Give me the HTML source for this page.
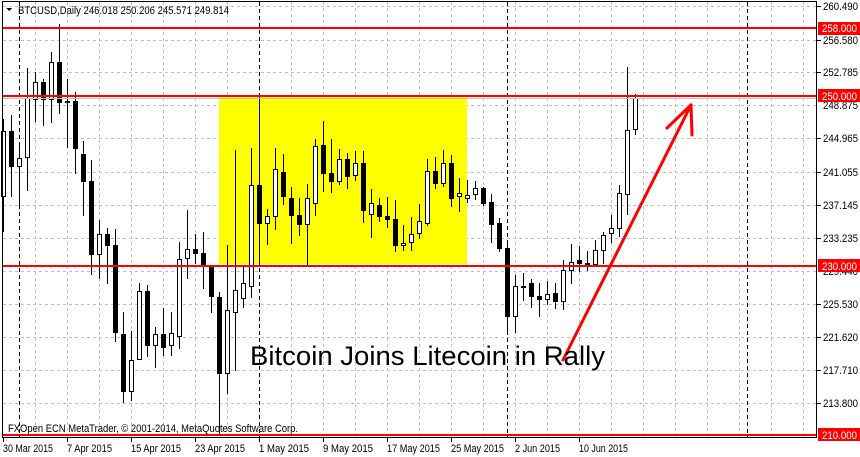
<!DOCTYPE html>
<html><head><meta charset="utf-8"><style>
html,body{margin:0;padding:0;background:#fff;width:860px;height:457px;overflow:hidden}
svg{display:block}
text{font-family:"Liberation Sans",sans-serif;font-size:11px;fill:#000}
</style></head><body>
<svg width="860" height="457" viewBox="0 0 860 457" xmlns="http://www.w3.org/2000/svg" shape-rendering="crispEdges">
<rect x="0" y="0" width="860" height="457" fill="#fff"/>
<g stroke="#c0c0c0" stroke-width="1" stroke-dasharray="3,3">
<line x1="3" y1="6.5" x2="817" y2="6.5"/><line x1="3" y1="40.5" x2="817" y2="40.5"/><line x1="3" y1="72.5" x2="817" y2="72.5"/><line x1="3" y1="105.5" x2="817" y2="105.5"/><line x1="3" y1="138.5" x2="817" y2="138.5"/><line x1="3" y1="172.5" x2="817" y2="172.5"/><line x1="3" y1="205.5" x2="817" y2="205.5"/><line x1="3" y1="238.5" x2="817" y2="238.5"/><line x1="3" y1="271.5" x2="817" y2="271.5"/><line x1="3" y1="304.5" x2="817" y2="304.5"/><line x1="3" y1="337.5" x2="817" y2="337.5"/><line x1="3" y1="370.5" x2="817" y2="370.5"/><line x1="3" y1="403.5" x2="817" y2="403.5"/>
</g>
<g stroke="#c0c0c0" stroke-width="1" stroke-dasharray="3,3">
<line x1="35.5" y1="2" x2="35.5" y2="437"/><line x1="67.5" y1="2" x2="67.5" y2="437"/><line x1="99.5" y1="2" x2="99.5" y2="437"/><line x1="131.5" y1="2" x2="131.5" y2="437"/><line x1="163.5" y1="2" x2="163.5" y2="437"/><line x1="195.5" y1="2" x2="195.5" y2="437"/><line x1="227.5" y1="2" x2="227.5" y2="437"/><line x1="291.5" y1="2" x2="291.5" y2="437"/><line x1="323.5" y1="2" x2="323.5" y2="437"/><line x1="355.5" y1="2" x2="355.5" y2="437"/><line x1="387.5" y1="2" x2="387.5" y2="437"/><line x1="419.5" y1="2" x2="419.5" y2="437"/><line x1="451.5" y1="2" x2="451.5" y2="437"/><line x1="483.5" y1="2" x2="483.5" y2="437"/><line x1="515.5" y1="2" x2="515.5" y2="437"/><line x1="547.5" y1="2" x2="547.5" y2="437"/><line x1="579.5" y1="2" x2="579.5" y2="437"/><line x1="611.5" y1="2" x2="611.5" y2="437"/><line x1="643.5" y1="2" x2="643.5" y2="437"/><line x1="675.5" y1="2" x2="675.5" y2="437"/><line x1="707.5" y1="2" x2="707.5" y2="437"/><line x1="739.5" y1="2" x2="739.5" y2="437"/><line x1="771.5" y1="2" x2="771.5" y2="437"/><line x1="803.5" y1="2" x2="803.5" y2="437"/>
</g>
<rect x="219" y="96" width="248" height="168" fill="#ffff00"/>
<g stroke="#000" stroke-width="1" stroke-dasharray="4,3">
<line x1="19.5" y1="2" x2="19.5" y2="437"/><line x1="507.5" y1="2" x2="507.5" y2="437"/><line x1="747.5" y1="2" x2="747.5" y2="437"/>
</g>
<line x1="259.5" y1="2" x2="259.5" y2="437" stroke="#000" stroke-dasharray="4,3"/>
<line x1="259.5" y1="96" x2="259.5" y2="264" stroke="#0000c0" stroke-dasharray="4,3"/>
<g stroke="#000" stroke-width="1">
<line x1="3.5" y1="119" x2="3.5" y2="232"/><rect x="1.5" y="131.5" width="4" height="65" fill="#fff"/>
<line x1="11.5" y1="115" x2="11.5" y2="197"/><rect x="9.5" y="131.5" width="4" height="35" fill="#000"/>
<line x1="19.5" y1="144" x2="19.5" y2="208"/><rect x="17.5" y="158.5" width="4" height="8" fill="#fff"/>
<line x1="27.5" y1="68" x2="27.5" y2="191"/><rect x="25.5" y="98.5" width="4" height="59" fill="#fff"/>
<line x1="35.5" y1="72" x2="35.5" y2="122"/><rect x="33.5" y="82.5" width="4" height="17" fill="#fff"/>
<line x1="43.5" y1="79" x2="43.5" y2="126"/><rect x="41.5" y="82.5" width="4" height="17" fill="#000"/>
<line x1="51.5" y1="52" x2="51.5" y2="123"/><rect x="49.5" y="62.5" width="4" height="37" fill="#fff"/>
<line x1="59.5" y1="24" x2="59.5" y2="114"/><rect x="57.5" y="62.5" width="4" height="40" fill="#000"/>
<line x1="67.5" y1="79" x2="67.5" y2="148"/><rect x="65.5" y="101.5" width="4" height="1" fill="#000"/>
<line x1="75.5" y1="92" x2="75.5" y2="174"/><rect x="73.5" y="101.5" width="4" height="47" fill="#000"/>
<line x1="83.5" y1="141" x2="83.5" y2="216"/><rect x="81.5" y="154.5" width="4" height="27" fill="#000"/>
<line x1="91.5" y1="160" x2="91.5" y2="275"/><rect x="89.5" y="181.5" width="4" height="73" fill="#000"/>
<line x1="99.5" y1="220" x2="99.5" y2="279"/><rect x="97.5" y="234.5" width="4" height="20" fill="#fff"/>
<line x1="107.5" y1="228" x2="107.5" y2="284"/><rect x="105.5" y="234.5" width="4" height="11" fill="#000"/>
<line x1="115.5" y1="229" x2="115.5" y2="342"/><rect x="113.5" y="245.5" width="4" height="87" fill="#000"/>
<line x1="123.5" y1="312" x2="123.5" y2="403"/><rect x="121.5" y="334.5" width="4" height="57" fill="#000"/>
<line x1="131.5" y1="331" x2="131.5" y2="401"/><rect x="129.5" y="360.5" width="4" height="31" fill="#fff"/>
<line x1="139.5" y1="283" x2="139.5" y2="360"/><rect x="137.5" y="291.5" width="4" height="68" fill="#fff"/>
<line x1="147.5" y1="285" x2="147.5" y2="357"/><rect x="145.5" y="291.5" width="4" height="54" fill="#000"/>
<line x1="155.5" y1="327" x2="155.5" y2="368"/><rect x="153.5" y="334.5" width="4" height="11" fill="#fff"/>
<line x1="163.5" y1="308" x2="163.5" y2="356"/><rect x="161.5" y="334.5" width="4" height="13" fill="#000"/>
<line x1="171.5" y1="312" x2="171.5" y2="356"/><rect x="169.5" y="333.5" width="4" height="12" fill="#fff"/>
<line x1="179.5" y1="242" x2="179.5" y2="349"/><rect x="177.5" y="259.5" width="4" height="77" fill="#fff"/>
<line x1="187.5" y1="210" x2="187.5" y2="279"/><rect x="185.5" y="249.5" width="4" height="9" fill="#fff"/>
<line x1="195.5" y1="234" x2="195.5" y2="264"/><rect x="193.5" y="249.5" width="4" height="4" fill="#000"/>
<line x1="203.5" y1="232" x2="203.5" y2="289"/><rect x="201.5" y="253.5" width="4" height="12" fill="#000"/>
<line x1="211.5" y1="267" x2="211.5" y2="313"/><rect x="209.5" y="267.5" width="4" height="29" fill="#000"/>
<line x1="219.5" y1="292" x2="219.5" y2="435"/><rect x="217.5" y="297.5" width="4" height="76" fill="#000"/>
<line x1="227.5" y1="245" x2="227.5" y2="394"/><rect x="225.5" y="310.5" width="4" height="63" fill="#fff"/>
<line x1="235.5" y1="150" x2="235.5" y2="371"/><rect x="233.5" y="290.5" width="4" height="22" fill="#fff"/>
<line x1="243.5" y1="267" x2="243.5" y2="308"/><rect x="241.5" y="283.5" width="4" height="15" fill="#fff"/>
<line x1="251.5" y1="148" x2="251.5" y2="298"/><rect x="249.5" y="185.5" width="4" height="101" fill="#fff"/>
<line x1="259.5" y1="170" x2="259.5" y2="234"/><rect x="257.5" y="185.5" width="4" height="38" fill="#000"/>
<line x1="267.5" y1="209" x2="267.5" y2="245"/><rect x="265.5" y="216.5" width="4" height="7" fill="#fff"/>
<line x1="275.5" y1="148" x2="275.5" y2="230"/><rect x="273.5" y="169.5" width="4" height="47" fill="#fff"/>
<line x1="283.5" y1="154" x2="283.5" y2="205"/><rect x="281.5" y="172.5" width="4" height="24" fill="#000"/>
<line x1="291.5" y1="187" x2="291.5" y2="244"/><rect x="289.5" y="198.5" width="4" height="17" fill="#000"/>
<line x1="299.5" y1="198" x2="299.5" y2="236"/><rect x="297.5" y="215.5" width="4" height="9" fill="#000"/>
<line x1="307.5" y1="184" x2="307.5" y2="265"/><rect x="305.5" y="198.5" width="4" height="26" fill="#fff"/>
<line x1="315.5" y1="139" x2="315.5" y2="216"/><rect x="313.5" y="146.5" width="4" height="57" fill="#fff"/>
<line x1="323.5" y1="121" x2="323.5" y2="192"/><rect x="321.5" y="145.5" width="4" height="28" fill="#000"/>
<line x1="331.5" y1="139" x2="331.5" y2="193"/><rect x="329.5" y="173.5" width="4" height="8" fill="#000"/>
<line x1="339.5" y1="149" x2="339.5" y2="185"/><rect x="337.5" y="159.5" width="4" height="22" fill="#fff"/>
<line x1="347.5" y1="153" x2="347.5" y2="189"/><rect x="345.5" y="159.5" width="4" height="17" fill="#000"/>
<line x1="355.5" y1="151" x2="355.5" y2="181"/><rect x="353.5" y="163.5" width="4" height="12" fill="#fff"/>
<line x1="363.5" y1="151" x2="363.5" y2="223"/><rect x="361.5" y="163.5" width="4" height="47" fill="#000"/>
<line x1="371.5" y1="189" x2="371.5" y2="238"/><rect x="369.5" y="203.5" width="4" height="11" fill="#fff"/>
<line x1="379.5" y1="198" x2="379.5" y2="222"/><rect x="377.5" y="205.5" width="4" height="11" fill="#000"/>
<line x1="387.5" y1="197" x2="387.5" y2="228"/><rect x="385.5" y="216.5" width="4" height="3" fill="#000"/>
<line x1="395.5" y1="200" x2="395.5" y2="252"/><rect x="393.5" y="219.5" width="4" height="26" fill="#000"/>
<line x1="403.5" y1="225" x2="403.5" y2="251"/><rect x="401.5" y="243.5" width="4" height="2" fill="#fff"/>
<line x1="411.5" y1="217" x2="411.5" y2="251"/><rect x="409.5" y="234.5" width="4" height="8" fill="#fff"/>
<line x1="419.5" y1="204" x2="419.5" y2="239"/><rect x="417.5" y="221.5" width="4" height="12" fill="#fff"/>
<line x1="427.5" y1="159" x2="427.5" y2="226"/><rect x="425.5" y="171.5" width="4" height="52" fill="#fff"/>
<line x1="435.5" y1="157" x2="435.5" y2="189"/><rect x="433.5" y="171.5" width="4" height="12" fill="#000"/>
<line x1="443.5" y1="150" x2="443.5" y2="187"/><rect x="441.5" y="163.5" width="4" height="20" fill="#fff"/>
<line x1="451.5" y1="155" x2="451.5" y2="207"/><rect x="449.5" y="163.5" width="4" height="35" fill="#000"/>
<line x1="459.5" y1="178" x2="459.5" y2="212"/><rect x="457.5" y="193.5" width="4" height="3" fill="#fff"/>
<line x1="467.5" y1="180" x2="467.5" y2="203"/><rect x="465.5" y="195.5" width="4" height="3" fill="#fff"/>
<line x1="475.5" y1="181" x2="475.5" y2="200"/><rect x="473.5" y="188.5" width="4" height="6" fill="#fff"/>
<line x1="483.5" y1="187" x2="483.5" y2="206"/><rect x="481.5" y="188.5" width="4" height="15" fill="#000"/>
<line x1="491.5" y1="194" x2="491.5" y2="243"/><rect x="489.5" y="202.5" width="4" height="22" fill="#000"/>
<line x1="499.5" y1="218" x2="499.5" y2="252"/><rect x="497.5" y="223.5" width="4" height="25" fill="#000"/>
<line x1="507.5" y1="242" x2="507.5" y2="332"/><rect x="505.5" y="248.5" width="4" height="68" fill="#000"/>
<line x1="515.5" y1="275" x2="515.5" y2="333"/><rect x="513.5" y="286.5" width="4" height="30" fill="#fff"/>
<line x1="523.5" y1="273" x2="523.5" y2="301"/><rect x="521.5" y="286.5" width="4" height="1" fill="#000"/>
<line x1="531.5" y1="279" x2="531.5" y2="308"/><rect x="529.5" y="283.5" width="4" height="13" fill="#000"/>
<line x1="539.5" y1="283" x2="539.5" y2="317"/><rect x="537.5" y="296.5" width="4" height="3" fill="#000"/>
<line x1="547.5" y1="281" x2="547.5" y2="305"/><rect x="545.5" y="294.5" width="4" height="5" fill="#fff"/>
<line x1="555.5" y1="283" x2="555.5" y2="309"/><rect x="553.5" y="293.5" width="4" height="8" fill="#000"/>
<line x1="563.5" y1="260" x2="563.5" y2="310"/><rect x="561.5" y="270.5" width="4" height="31" fill="#fff"/>
<line x1="571.5" y1="244" x2="571.5" y2="284"/><rect x="569.5" y="262.5" width="4" height="8" fill="#fff"/>
<line x1="579.5" y1="246" x2="579.5" y2="272"/><rect x="577.5" y="260.5" width="4" height="3" fill="#000"/>
<line x1="587.5" y1="251" x2="587.5" y2="271"/><rect x="585.5" y="263.5" width="4" height="2" fill="#000"/>
<line x1="595.5" y1="240" x2="595.5" y2="265"/><rect x="593.5" y="250.5" width="4" height="14" fill="#fff"/>
<line x1="603.5" y1="232" x2="603.5" y2="264"/><rect x="601.5" y="235.5" width="4" height="15" fill="#fff"/>
<line x1="611.5" y1="215" x2="611.5" y2="243"/><rect x="609.5" y="228.5" width="4" height="5" fill="#fff"/>
<line x1="619.5" y1="185" x2="619.5" y2="237"/><rect x="617.5" y="193.5" width="4" height="35" fill="#fff"/>
<line x1="627.5" y1="67" x2="627.5" y2="215"/><rect x="625.5" y="130.5" width="4" height="64" fill="#fff"/>
<line x1="635.5" y1="94" x2="635.5" y2="135"/><rect x="633.5" y="98.5" width="4" height="31" fill="#fff"/>
</g>
<line x1="3" y1="98.5" x2="817" y2="98.5" stroke="#c0c0c0"/>
<g fill="#ff0000">
<rect x="3" y="27" width="814" height="2"/>
<rect x="3" y="95" width="814" height="2"/>
<rect x="3" y="265" width="814" height="2"/>
<rect x="3" y="434" width="814" height="2"/>
</g>
<g stroke="#ff0000" stroke-width="3" stroke-linecap="round" fill="none" shape-rendering="auto">
<line x1="563" y1="360" x2="691" y2="105"/>
<line x1="691" y1="105" x2="667" y2="128"/>
<line x1="691" y1="105" x2="692" y2="135"/>
</g>
<rect x="2.5" y="1.5" width="814" height="436" fill="none" stroke="#000"/>
<path d="M6 8 L12 8 L9 11 Z" fill="#000"/>
<text x="18" y="14" textLength="211" lengthAdjust="spacingAndGlyphs">BTCUSD,Daily  246.018 250.206 245.571 249.814</text>
<text x="8" y="432" textLength="290" lengthAdjust="spacingAndGlyphs">FXOpen ECN MetaTrader, © 2001-2014, MetaQuotes Software Corp.</text>
<text x="250" y="365" style="font-size:27px" textLength="355" lengthAdjust="spacingAndGlyphs">Bitcoin Joins Litecoin in Rally</text>
<g stroke="#000">
<line x1="817" y1="6.5" x2="821" y2="6.5"/><line x1="817" y1="40.5" x2="821" y2="40.5"/><line x1="817" y1="72.5" x2="821" y2="72.5"/><line x1="817" y1="138.5" x2="821" y2="138.5"/><line x1="817" y1="172.5" x2="821" y2="172.5"/><line x1="817" y1="205.5" x2="821" y2="205.5"/><line x1="817" y1="238.5" x2="821" y2="238.5"/><line x1="817" y1="304.5" x2="821" y2="304.5"/><line x1="817" y1="337.5" x2="821" y2="337.5"/><line x1="817" y1="370.5" x2="821" y2="370.5"/><line x1="817" y1="403.5" x2="821" y2="403.5"/>
</g>
<g font-size="11">
<text x="823" y="10" textLength="35" lengthAdjust="spacingAndGlyphs">260.490</text>
<text x="823" y="44" textLength="35" lengthAdjust="spacingAndGlyphs">256.580</text>
<text x="823" y="76" textLength="35" lengthAdjust="spacingAndGlyphs">252.785</text>
<text x="823" y="109" textLength="35" lengthAdjust="spacingAndGlyphs">248.875</text>
<text x="823" y="142" textLength="35" lengthAdjust="spacingAndGlyphs">244.965</text>
<text x="823" y="176" textLength="35" lengthAdjust="spacingAndGlyphs">241.055</text>
<text x="823" y="209" textLength="35" lengthAdjust="spacingAndGlyphs">237.145</text>
<text x="823" y="242" textLength="35" lengthAdjust="spacingAndGlyphs">233.235</text>
<text x="823" y="275" textLength="35" lengthAdjust="spacingAndGlyphs">229.440</text>
<text x="823" y="308" textLength="35" lengthAdjust="spacingAndGlyphs">225.530</text>
<text x="823" y="341" textLength="35" lengthAdjust="spacingAndGlyphs">221.620</text>
<text x="823" y="374" textLength="35" lengthAdjust="spacingAndGlyphs">217.710</text>
<text x="823" y="407" textLength="35" lengthAdjust="spacingAndGlyphs">213.800</text>
</g>
<g fill="#ff0000">
<rect x="818" y="22" width="42" height="13"/>
<rect x="818" y="89" width="42" height="13"/>
<rect x="818" y="259" width="42" height="13"/>
<rect x="818" y="428" width="42" height="13"/>
</g>
<text x="822" y="32" style="fill:#fff" textLength="35" lengthAdjust="spacingAndGlyphs">258.000</text>
<text x="822" y="100" style="fill:#fff" textLength="35" lengthAdjust="spacingAndGlyphs">250.000</text>
<text x="822" y="270" style="fill:#fff" textLength="35" lengthAdjust="spacingAndGlyphs">230.000</text>
<text x="822" y="439" style="fill:#fff" textLength="35" lengthAdjust="spacingAndGlyphs">210.000</text>
<g stroke="#000">
<line x1="3.5" y1="438" x2="3.5" y2="442"/><line x1="67.5" y1="438" x2="67.5" y2="442"/><line x1="131.5" y1="438" x2="131.5" y2="442"/><line x1="195.5" y1="438" x2="195.5" y2="442"/><line x1="259.5" y1="438" x2="259.5" y2="442"/><line x1="323.5" y1="438" x2="323.5" y2="442"/><line x1="387.5" y1="438" x2="387.5" y2="442"/><line x1="451.5" y1="438" x2="451.5" y2="442"/><line x1="515.5" y1="438" x2="515.5" y2="442"/><line x1="579.5" y1="438" x2="579.5" y2="442"/>
</g>
<text x="3" y="452" textLength="50" lengthAdjust="spacingAndGlyphs">30 Mar 2015</text>
<text x="67" y="452" textLength="45" lengthAdjust="spacingAndGlyphs">7 Apr 2015</text>
<text x="131" y="452" textLength="50" lengthAdjust="spacingAndGlyphs">15 Apr 2015</text>
<text x="195" y="452" textLength="50" lengthAdjust="spacingAndGlyphs">23 Apr 2015</text>
<text x="259" y="452" textLength="50" lengthAdjust="spacingAndGlyphs">1 May 2015</text>
<text x="323" y="452" textLength="50" lengthAdjust="spacingAndGlyphs">9 May 2015</text>
<text x="387" y="452" textLength="53" lengthAdjust="spacingAndGlyphs">17 May 2015</text>
<text x="451" y="452" textLength="53" lengthAdjust="spacingAndGlyphs">25 May 2015</text>
<text x="515" y="452" textLength="45" lengthAdjust="spacingAndGlyphs">2 Jun 2015</text>
<text x="579" y="452" textLength="49" lengthAdjust="spacingAndGlyphs">10 Jun 2015</text>
</svg>
</body></html>
